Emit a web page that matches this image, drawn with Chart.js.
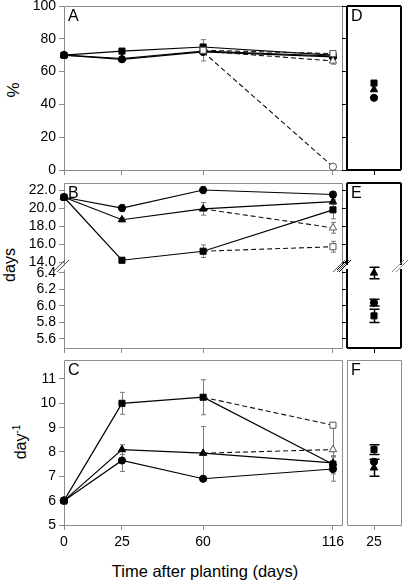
<!DOCTYPE html>
<html>
<head>
<meta charset="utf-8">
<script src="https://cdn.jsdelivr.net/npm/chart.js@4.4.0/dist/chart.umd.min.js"></script>
<style>
body { margin: 0; background: #fff; width: 408px; height: 580px; position: relative; overflow: hidden; font-family: "Liberation Sans", Arial, sans-serif; }
canvas { position: absolute; }
.lbl { position: absolute; font-size: 16px; color: #000; white-space: nowrap; line-height: 1; }
.rot { transform: translate(-50%, -50%) rotate(-90deg); }
.lbl sup { font-size: 10px; vertical-align: 6px; }
</style>
</head>
<body>
<div class="lbl rot" style="left:13px; top:90px; font-size:17px;">%</div>
<div class="lbl rot" style="left:10px; top:265px;">days</div>
<div class="lbl rot" style="left:20px; top:442px;">day<sup>-1</sup></div>
<div class="lbl" style="left:205px; top:571px; transform: translate(-50%, -50%); font-size:16.5px;">Time after planting (days)</div>
<script>
// Sampling days
const days = [0, 25, 60, 116];
const lateDays = [60, 116];
const sideDay = [25];

// Panel A / D (%)
const pctTicks = [0, 20, 40, 60, 80, 100];
const pctCircle = [70, 67.5, 72, 69];
const pctTriangle = [70, 68, 72.5, 69.5];
const pctSquare = [70, 72.5, 75, 70];
const pctOpenCircle = [72, 2];
const pctOpenTriangle = [72.5, 66.5];
const pctOpenTriangleErr = [0, 2];
const pctOpenSquare = [73, 71];
const pctOpenSquareErr = [6.5, 1];
const pctSideCircle = [44];
const pctSideTriangle = [49];
const pctSideSquare = [53];

// Panel B / E (days)
const durUpperTicks = [14, 16, 18, 20, 22];
const durLowerTicks = [5.6, 5.8, 6.0, 6.2, 6.4];
const durCircle = [21.2, 20.0, 22.0, 21.5];
const durCircleErr = [0, 0.4, 0.4, 0.3];
const durTriangle = [21.2, 18.7, 19.9, 20.7];
const durTriangleErr = [0, 0.2, 0.7, 0.3];
const durSquare = [21.2, 14.2, 15.2, 19.8];
const durSquareErr = [0, 0.2, 0.7, 1.0];
const durOpenTriangle = [19.9, 17.8];
const durOpenTriangleErr = [0, 0.6];
const durOpenSquare = [15.2, 15.7];
const durOpenSquareErr = [0, 0.6];
const durSideCircle = [6.04];
const durSideCircleErr = [0.04];
const durSideTriangle = [6.40];
const durSideTriangleErr = [0.07];
const durSideSquare = [5.88];
const durSideSquareErr = [0.08];

// Panel C / F (day^-1)
const rateTicks = [5, 6, 7, 8, 9, 10, 11];
const rateCircle = [6.0, 7.65, 6.9, 7.3];
const rateCircleErr = [0.15, 0.45, 0, 0.5];
const rateTriangle = [6.0, 8.1, 7.95, 7.55];
const rateTriangleErr = [0, 0.2, 1.1, 0.3];
const rateSquare = [6.0, 10.0, 10.25, 7.5];
const rateSquareErr = [0, 0.45, 0.72, 0.3];
const rateOpenTriangle = [7.95, 8.1];
const rateOpenTriangleErr = [0, 1.0];
const rateOpenSquare = [10.25, 9.1];
const rateSideCircle = [7.6];
const rateSideTriangle = [7.35];
const rateSideTriangleErr = [0.35];
const rateSideSquare = [8.1];
const rateSideSquareErr = [0.2];

const FONT = { family: 'Liberation Sans', size: 14 };
const GRAY = '#8c8c8c';
const RADIUS = { circle: 3.6, triangle: 4.3, rect: 4.3 };

function pts(xs, ys) {
    return xs.map((x, i) => ({ x: x, y: ys[i] }));
}

function solid(xs, ys, shape, errs) {
    return {
        data: pts(xs, ys), errors: errs || null,
        borderColor: '#000', borderWidth: 1.2, tension: 0, fill: false, clip: false,
        pointStyle: shape, pointRadius: RADIUS[shape],
        pointBackgroundColor: '#000', pointBorderColor: '#000', pointBorderWidth: 1
    };
}

function dashed(xs, ys, shape, errs, showFirst) {
    return {
        data: pts(xs, ys), errors: errs || null,
        borderColor: '#111', borderWidth: 1.1, borderDash: [5, 3], tension: 0, fill: false, clip: false,
        pointStyle: shape, pointRadius: [showFirst ? RADIUS[shape] : 0, RADIUS[shape]],
        pointBackgroundColor: '#fff', pointBorderColor: '#555', pointBorderWidth: 1
    };
}

function dots(xs, ys, shape, errs) {
    const d = solid(xs, ys, shape, errs);
    d.showLine = false;
    return d;
}

// Error bars, drawn under the markers
const errorBars = {
    id: 'errorBars',
    beforeDatasetsDraw(chart, args, opts) {
        const ctx = chart.ctx;
        const xs = chart.scales.x, ys = chart.scales.y;
        ctx.save();
        ctx.strokeStyle = opts.color;
        ctx.lineWidth = opts.width;
        chart.data.datasets.forEach(ds => {
            if (!ds.errors) return;
            ds.data.forEach((p, i) => {
                const e = ds.errors[i];
                if (!e) return;
                const x = Math.round(xs.getPixelForValue(p.x)) + 0.5;
                const y1 = ys.getPixelForValue(p.y - e);
                const y2 = ys.getPixelForValue(p.y + e);
                ctx.beginPath();
                ctx.moveTo(x, y1); ctx.lineTo(x, y2);
                ctx.moveTo(x - opts.cap, y1); ctx.lineTo(x + opts.cap, y1);
                ctx.moveTo(x - opts.cap, y2); ctx.lineTo(x + opts.cap, y2);
                ctx.stroke();
            });
        });
        ctx.restore();
    }
};

// Panel frame, letter and axis-break marks
const panelBox = {
    id: 'panelBox',
    beforeDatasetsDraw(chart, args, opts) {
        const ctx = chart.ctx;
        const a = chart.chartArea;
        const o = opts.width % 2 ? 0.5 : 0;
        const l = Math.round(a.left) + o, r = Math.round(a.right) + o;
        const t = Math.round(a.top) + o, b = Math.round(a.bottom) + o;
        ctx.save();
        ctx.strokeStyle = opts.color;
        ctx.lineWidth = opts.width;
        ctx.beginPath();
        if (opts.sides.includes('t')) { ctx.moveTo(l, t); ctx.lineTo(r, t); }
        if (opts.sides.includes('b')) { ctx.moveTo(l, b); ctx.lineTo(r, b); }
        if (opts.sides.includes('l')) { ctx.moveTo(l, t); ctx.lineTo(l, b); }
        if (opts.sides.includes('r')) { ctx.moveTo(r, t); ctx.lineTo(r, b); }
        ctx.stroke();
        (opts.breaks || []).forEach(bk => {
            const cx = (bk.side === 'left' ? a.left : a.right) + bk.dx;
            const cy = a.top - 3;
            ctx.strokeStyle = bk.color;
            ctx.lineWidth = 1;
            ctx.beginPath();
            [-2, 2].forEach(off => {
                ctx.moveTo(cx - 6 + off, cy + 6);
                ctx.lineTo(cx + 6 + off, cy - 6);
            });
            ctx.stroke();
        });
        if (opts.letter) {
            ctx.fillStyle = '#000';
            ctx.font = '16px "Liberation Sans"';
            ctx.textBaseline = 'top';
            ctx.fillText(opts.letter, a.left + 4, a.top + 3);
        }
        ctx.restore();
    }
};

function makePanel(cfg) {
    const padT = 14, padB = 14, padR = 14;
    const W = cfg.axisW;
    const xH = cfg.xTicks ? cfg.xH : 0;
    const canvas = document.createElement('canvas');
    canvas.width = cfg.right - cfg.left + W + padR;
    canvas.height = cfg.bottom - cfg.top + padT + xH + padB;
    canvas.style.left = (cfg.left - W) + 'px';
    canvas.style.top = (cfg.top - padT) + 'px';
    document.body.appendChild(canvas);

    return new Chart(canvas, {
        type: 'line',
        data: { datasets: cfg.datasets || [] },
        plugins: [errorBars, panelBox],
        options: {
            responsive: false,
            animation: false,
            events: [],
            layout: { padding: { top: padT, bottom: padB, right: padR, left: 0 } },
            scales: {
                x: {
                    type: 'linear', min: cfg.xMin, max: cfg.xMax,
                    display: !!cfg.xTicks,
                    afterBuildTicks: s => { s.ticks = (cfg.xTicks || []).map(v => ({ value: v })); },
                    afterFit: s => { s.height = xH; },
                    grid: { drawOnChartArea: false, tickLength: 5, color: cfg.tickColor },
                    border: { display: false },
                    ticks: {
                        display: !!cfg.xLabels, font: FONT, color: '#000', padding: 4,
                        maxRotation: 0, autoSkip: false, callback: v => String(v)
                    }
                },
                y: {
                    type: 'linear', min: cfg.yMin, max: cfg.yMax,
                    afterBuildTicks: s => { if (cfg.yTicks) s.ticks = cfg.yTicks.map(v => ({ value: v })); },
                    afterFit: s => { s.width = W; },
                    grid: { display: !!cfg.yTicks, drawOnChartArea: false, tickLength: 5, color: cfg.tickColor },
                    border: { display: false },
                    ticks: {
                        display: !!cfg.yLabels, font: FONT, color: '#000', padding: 3, autoSkip: false,
                        callback: v => cfg.fmt ? cfg.fmt(v) : String(v)
                    }
                }
            },
            plugins: {
                legend: { display: false },
                tooltip: { enabled: false },
                errorBars: cfg.err || { color: '#7a7a7a', width: 1, cap: 2.5 },
                panelBox: cfg.box
            }
        }
    });
}

const left = { left: 64, right: 342, axisW: 64, xMin: 0, xMax: 119.9 };
const side = { left: 347, right: 401, axisW: 10, xMin: 0, xMax: 50 };
const sideErr = { color: '#000', width: 1.5, cap: 5 };
const oneDec = v => v.toFixed(1);

// A
makePanel(Object.assign({}, left, {
    top: 6, bottom: 170, yMin: 0, yMax: 100, yTicks: pctTicks, yLabels: true,
    xTicks: days, xH: 8, tickColor: GRAY,
    box: { color: GRAY, width: 1, sides: 'tlrb', letter: 'A' },
    datasets: [
        dashed(lateDays, pctOpenSquare, 'rect', pctOpenSquareErr, true),
        dashed(lateDays, pctOpenCircle, 'circle', null, false),
        dashed(lateDays, pctOpenTriangle, 'triangle', pctOpenTriangleErr, false),
        solid(days, pctCircle, 'circle'),
        solid(days, pctTriangle, 'triangle'),
        solid(days, pctSquare, 'rect')
    ]
}));

// D
makePanel(Object.assign({}, side, {
    top: 6, bottom: 170, yMin: 0, yMax: 100, yTicks: pctTicks, yLabels: false,
    xTicks: sideDay, xH: 8, tickColor: '#000',
    box: { color: '#000', width: 2, sides: 'tlrb', letter: 'D' },
    datasets: [
        dots(sideDay, pctSideSquare, 'rect'),
        dots(sideDay, pctSideTriangle, 'triangle'),
        dots(sideDay, pctSideCircle, 'circle')
    ]
}));

// B upper
makePanel(Object.assign({}, left, {
    top: 183, bottom: 265, yMin: 13.67, yMax: 22.78, yTicks: durUpperTicks, yLabels: true, fmt: oneDec,
    xTicks: null, tickColor: GRAY,
    box: { color: GRAY, width: 1, sides: 'tlr', letter: 'B' },
    datasets: [
        dashed(lateDays, durOpenTriangle, 'triangle', durOpenTriangleErr, false),
        dashed(lateDays, durOpenSquare, 'rect', durOpenSquareErr, false),
        solid(days, durCircle, 'circle', durCircleErr),
        solid(days, durTriangle, 'triangle', durTriangleErr),
        solid(days, durSquare, 'rect', durSquareErr)
    ]
}));

// B lower
makePanel(Object.assign({}, left, {
    top: 269, bottom: 348, yMin: 5.49, yMax: 6.448, yTicks: durLowerTicks, yLabels: true, fmt: oneDec,
    xTicks: days, xH: 8, tickColor: GRAY,
    box: { color: GRAY, width: 1, sides: 'lrb',
        breaks: [{ side: 'left', dx: -3, color: '#555' }, { side: 'right', dx: -1, color: '#555' }] }
}));

// E upper
makePanel(Object.assign({}, side, {
    top: 183, bottom: 265, yMin: 13.67, yMax: 22.78, yTicks: durUpperTicks, yLabels: false,
    xTicks: null, tickColor: '#000',
    box: { color: '#000', width: 2, sides: 'tlr', letter: 'E' }
}));

// E lower
makePanel(Object.assign({}, side, {
    top: 269, bottom: 348, yMin: 5.49, yMax: 6.448, yTicks: durLowerTicks, yLabels: false,
    xTicks: sideDay, xH: 8, tickColor: '#000', err: sideErr,
    box: { color: '#000', width: 2, sides: 'lrb',
        breaks: [{ side: 'left', dx: -4, color: '#000' }, { side: 'right', dx: -1, color: GRAY }] },
    datasets: [
        dots(sideDay, durSideTriangle, 'triangle', durSideTriangleErr),
        dots(sideDay, durSideCircle, 'circle', durSideCircleErr),
        dots(sideDay, durSideSquare, 'rect', durSideSquareErr)
    ]
}));

// C
makePanel(Object.assign({}, left, {
    top: 360, bottom: 525, yMin: 5, yMax: 11.78, yTicks: rateTicks, yLabels: true,
    xTicks: days, xH: 30, xLabels: true, tickColor: GRAY,
    box: { color: GRAY, width: 1, sides: 'tlrb', letter: 'C' },
    datasets: [
        dashed(lateDays, rateOpenSquare, 'rect', null, false),
        dashed(lateDays, rateOpenTriangle, 'triangle', rateOpenTriangleErr, false),
        solid(days, rateCircle, 'circle', rateCircleErr),
        solid(days, rateTriangle, 'triangle', rateTriangleErr),
        solid(days, rateSquare, 'rect', rateSquareErr)
    ]
}));

// F
makePanel(Object.assign({}, side, {
    top: 360, bottom: 525, yMin: 5, yMax: 11.78, yTicks: null, yLabels: false,
    xTicks: sideDay, xH: 30, xLabels: true, tickColor: GRAY, err: sideErr,
    box: { color: GRAY, width: 1, sides: 'tlrb', letter: 'F' },
    datasets: [
        dots(sideDay, rateSideSquare, 'rect', rateSideSquareErr),
        dots(sideDay, rateSideCircle, 'circle'),
        dots(sideDay, rateSideTriangle, 'triangle', rateSideTriangleErr)
    ]
}));
</script>
</body>
</html>
